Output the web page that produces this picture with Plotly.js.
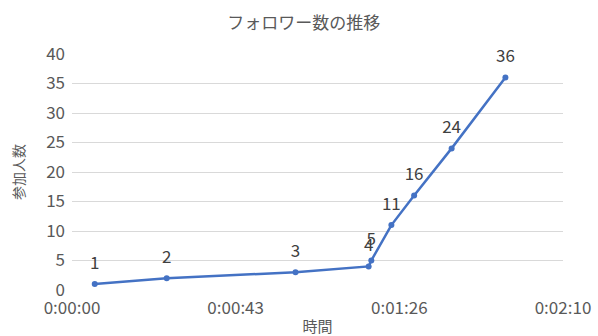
<!DOCTYPE html>
<html><head><meta charset="utf-8">
<script src="https://cdn.plot.ly/plotly-3.0.1.min.js"></script>
<style>html,body{margin:0;padding:0;background:#fff}#c{width:598px;height:336px}</style>
</head><body><div id="c"></div>
<script>
// time in seconds since start
const timeSec = [6, 25, 59, 78.3, 79, 84.3, 90.3, 100.2, 114.4];
const followers = [1, 2, 3, 4, 5, 11, 16, 24, 36];
const xTickVals = [0, 43.2, 86.4, 129.6];
const xTickText = ['0:00:00', '0:00:43', '0:01:26', '0:02:10'];
const yTickVals = [0, 5, 10, 15, 20, 25, 30, 35, 40];

const font = '"Noto Sans CJK JP", "Noto Sans", sans-serif';
Plotly.newPlot('c', [{
  x: timeSec, y: followers, type: 'scatter', mode: 'lines+markers',
  line: {color: '#4472C4', width: 2.5},
  marker: {color: '#4472C4', size: 6},
  hoverinfo: 'none', cliponaxis: false
}, {
  x: timeSec, y: followers, type: 'scatter', mode: 'markers+text',
  text: followers.map(String), textposition: 'top center',
  textfont: {size: 17, color: '#404040', family: font},
  marker: {color: 'rgba(0,0,0,0)', size: 16},
  hoverinfo: 'none', cliponaxis: false
}], {
  width: 598, height: 336,
  margin: {l: 72, r: 35, t: 54, b: 46},
  paper_bgcolor: '#fff', plot_bgcolor: '#fff',
  showlegend: false,
  title: {text: 'フォロワー数の推移', x: 0.508, xanchor: 'center', y: 0.93, yanchor: 'middle',
          font: {size: 17, color: '#595959', family: font}},
  xaxis: {range: [0, 129.6], tickvals: xTickVals, ticktext: xTickText, showgrid: false,
          zeroline: false, showline: false, ticks: '', ticklabelstandoff: 6,
          tickfont: {size: 17, color: '#595959', family: font},
          title: {text: '時間', font: {size: 15, color: '#595959', family: font}, standoff: 8}},
  yaxis: {range: [0, 40], tickvals: yTickVals, showgrid: true, gridcolor: '#d9d9d9', gridwidth: 1,
          zeroline: false, showline: false, ticks: '', ticklabelstandoff: 6,
          tickfont: {size: 17, color: '#595959', family: font},
          title: {text: '参加人数', font: {size: 14, color: '#595959', family: font}, standoff: 18}}
}, {staticPlot: true});
</script></body></html>
